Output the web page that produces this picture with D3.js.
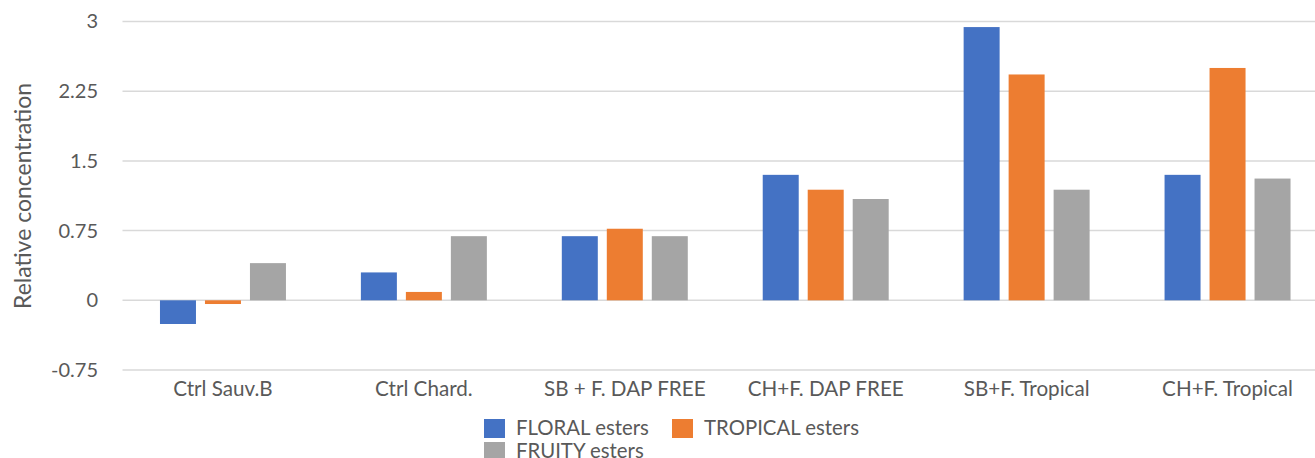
<!DOCTYPE html>
<html><head><meta charset="utf-8">
<script src="https://cdn.jsdelivr.net/npm/d3@7"></script>
<style>body{margin:0;background:#fff}svg{display:block}text{font-family:Lato,sans-serif;fill:#595959}</style>
</head><body><svg id="c" width="1315" height="458"></svg>
<script>
const categories = ["Ctrl Sauv.B","Ctrl Chard.","SB + F. DAP FREE","CH+F. DAP FREE","SB+F. Tropical","CH+F. Tropical"];
const seriesNames = ["FLORAL esters","TROPICAL esters","FRUITY esters"];
const floral = [-0.255, 0.30, 0.69, 1.35, 2.94, 1.35];
const tropical = [-0.04, 0.09, 0.77, 1.19, 2.43, 2.50];
const fruity = [0.40, 0.69, 0.69, 1.09, 1.19, 1.31];
const colors = ["#4472C4","#ED7D31","#A5A5A5"];
const yTicks = [-0.75, 0, 0.75, 1.5, 2.25, 3];
const yTickLabels = ["-0.75","0","0.75","1.5","2.25","3"];
const values = [floral, tropical, fruity];

const svg = d3.select("#c");

// fit font size of a text group so that a reference text has a target width
function fitSize(sample, target, base) {
  const t = svg.append("text").attr("font-size", base).text(sample);
  const w = t.node().getComputedTextLength();
  t.remove();
  return base * target / w;
}
const fsX = fitSize("CH+F. Tropical", 131, 20);
const fsLeg = fitSize("FLORAL esters", 133, 20);
const fsY = fitSize("-0.75", 47, 20);
const fsTitle = fitSize("Relative concentration", 226, 20);

const x0 = d3.scaleBand().domain(categories).range([122.5, 1328]).paddingInner(0.373).paddingOuter(0.1865);
const x1 = d3.scaleBand().domain(seriesNames).range([0, x0.bandwidth()]).paddingInner(0.2).paddingOuter(0);
const y = d3.scaleLinear().domain([-0.75, 3]).range([370, 21.5]);

// gridlines
svg.append("g").selectAll("line").data(yTicks).join("line")
  .attr("x1", 122.5).attr("x2", 1315)
  .attr("y1", d => y(d)).attr("y2", d => y(d))
  .attr("stroke", "#d9d9d9").attr("stroke-width", 1.5);

// y axis labels
const yAxis = d3.axisLeft(y).tickValues(yTicks).tickFormat((d,i) => yTickLabels[i]).tickSize(0).tickPadding(0);
const ga = svg.append("g").attr("transform", "translate(98,0)").call(yAxis);
ga.select(".domain").remove();
ga.selectAll("text").attr("font-size", fsY).attr("font-family", "Lato, sans-serif").attr("fill", "#595959");

// bars
const g = svg.append("g");
seriesNames.forEach((s, si) => {
  g.append("g").selectAll("rect").data(values[si]).join("rect")
    .attr("x", (d, i) => x0(categories[i]) + x1(s))
    .attr("width", x1.bandwidth())
    .attr("y", d => y(Math.max(0, d)))
    .attr("height", d => Math.abs(y(d) - y(0)))
    .attr("fill", colors[si]);
});

// x axis labels
const xAxis = d3.axisBottom(x0).tickSize(0).tickPadding(0);
const gx = svg.append("g").attr("transform", "translate(0,396)").call(xAxis);
gx.select(".domain").remove();
gx.selectAll("text").attr("font-size", fsX).attr("font-family", "Lato, sans-serif").attr("fill", "#595959").attr("dy", 0);

// y title
svg.append("text").attr("transform", "translate(31,196) rotate(-90)")
  .attr("text-anchor", "middle").attr("font-size", fsTitle).text("Relative concentration");

// legend
const legendPos = [[484, 419], [672, 419], [484, 442]];
const lg = svg.append("g");
seriesNames.forEach((s, i) => {
  const [lx, ly] = legendPos[i];
  lg.append("rect").attr("x", lx).attr("y", ly).attr("width", 21).attr("height", 19).attr("fill", colors[i]);
  lg.append("text").attr("x", lx + 32).attr("y", ly + 16).attr("font-size", fsLeg).text(s);
});
</script></body></html>
